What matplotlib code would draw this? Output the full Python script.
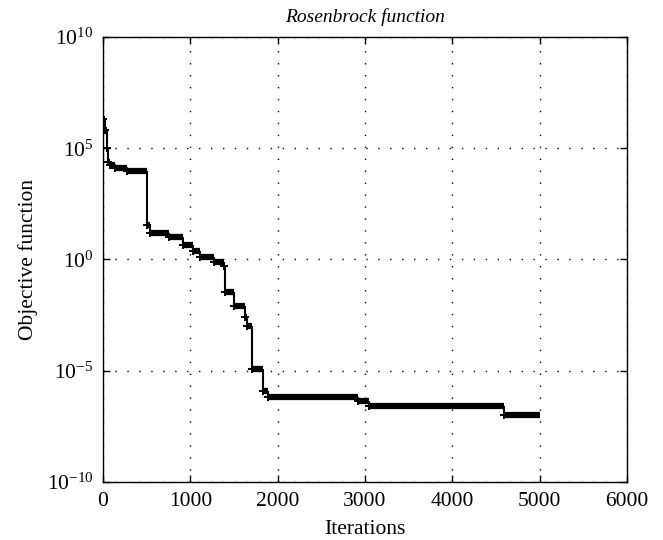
import numpy as np
import matplotlib
matplotlib.use("Agg")
import matplotlib.pyplot as plt
from matplotlib.ticker import NullLocator, MultipleLocator

plt.rcParams['font.family'] = ['Liberation Serif', 'DejaVu Serif']
plt.rcParams['mathtext.fontset'] = 'stix'

# iteration at which the best value changes, and the new best value
iters = [0, 20, 40, 57, 80, 138, 276, 506, 540, 750, 920, 1035, 1115, 1265,
         1380, 1400, 1500, 1630, 1650, 1710, 1830, 1885, 2920, 3050, 4590]
best = [2.0e6, 6.3e5, 1.0e5, 2.5e4, 1.8e4, 1.26e4, 9.1e3, 37.0, 14.8, 10.7,
        4.7, 2.3, 1.35, 0.81, 0.49, 0.036, 7.9e-3, 2.5e-3, 1.0e-3, 1.15e-5,
        1.17e-6, 6.9e-7, 4.2e-7, 2.5e-7, 1.07e-7]
last_iter = 5000

fig = plt.figure(figsize=(6.63, 5.40), dpi=100)
ax = fig.add_axes([0.1554, 0.1074, 0.7903, 0.8241])

x_end = iters[1:] + [last_iter]
# flat parts drawn heavy (dense markers in the original), drops drawn thin
ax.hlines(best, iters, x_end, colors='black', linewidth=4.5, zorder=3)
ax.vlines(iters[1:], best[1:], best[:-1], colors='black', linewidth=1.5, zorder=3)
ax.plot(iters, best, linestyle='none', marker='+', color='black',
        markersize=6, markeredgewidth=1.4, zorder=4)

ax.set_yscale('log')
ax.set_xlim(0, 6000)
ax.set_ylim(1e-10, 1e10)
ax.xaxis.set_major_locator(MultipleLocator(1000))
ax.set_yticks([1e-10, 1e-5, 1e0, 1e5, 1e10])
ax.yaxis.set_minor_locator(NullLocator())

ax.grid(True, color='black', linestyle=(0, (1, 7.6)), linewidth=1.0)
ax.tick_params(direction='in', top=True, right=True, length=5, width=1,
               labelsize=15.5, pad=7)
for s in ax.spines.values():
    s.set_linewidth(1.0)

ax.set_xlabel('Iterations', fontsize=15.5, labelpad=7)
ax.set_ylabel('Objective function', fontsize=15.5, labelpad=6)
ax.set_title('Rosenbrock function', fontsize=14, style='italic', pad=11)

fig.savefig('out.png', dpi=100)
